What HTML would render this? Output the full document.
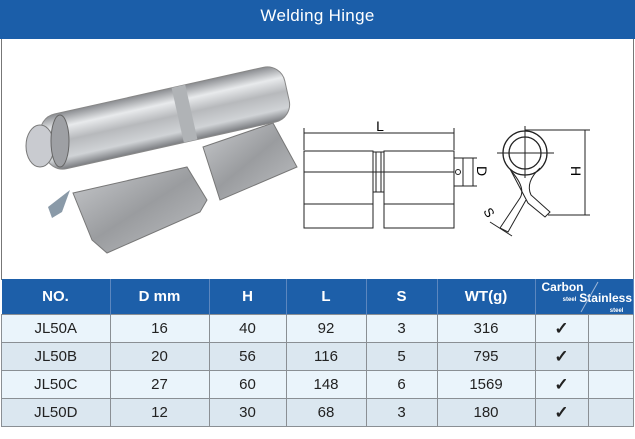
<!DOCTYPE html>
<html><head><meta charset="utf-8"><style>
body{margin:0;width:635px;height:439px;background:#fff;font-family:"Liberation Sans",sans-serif;position:relative;overflow:hidden}
.title{position:absolute;left:0;top:0;width:635px;height:39px;background:#1b5ea9;color:#fff;font-size:17px;text-align:center;line-height:31px;letter-spacing:.3px}
.frame{position:absolute;left:1px;top:39px;width:631px;height:241px;border-left:1px solid #777;border-right:1px solid #777}
table{position:absolute;left:1px;top:279px;border-collapse:collapse;width:633px;font-size:15px;color:#222}
th{background:#1d5fa9;color:#fff;height:35px;font-weight:bold;border-right:1px solid #5c87bf;font-size:15px;padding:0}
td{height:27px;text-align:center;border:1px solid #8a8f94;padding:0}
tr.a td{background:#eaf4fb} tr.b td{background:#dbe7f0}
.ck{font-size:17px;font-weight:bold}
</style></head><body>
<div class="title">Welding Hinge</div>
<div class="frame"></div>
<svg width="635" height="280" style="position:absolute;left:0;top:0">
<defs>
<linearGradient id="cy" x1="0" y1="0" x2="0" y2="1">
<stop offset="0" stop-color="#8a8c90"/><stop offset=".25" stop-color="#e8eaec"/><stop offset=".5" stop-color="#b7b9bc"/><stop offset=".8" stop-color="#d0d3d6"/><stop offset="1" stop-color="#7a7c80"/></linearGradient>
<linearGradient id="fl" x1="0" y1="0" x2="1" y2="1">
<stop offset="0" stop-color="#c8cacd"/><stop offset=".5" stop-color="#9a9c9f"/><stop offset="1" stop-color="#bfc1c4"/></linearGradient>
</defs>
<polygon points="203,147 273,123 297,167 220,200" fill="url(#fl)" stroke="#777"/>
<polygon points="73,193 187,167 207,200 200,212 107,253 92,240" fill="url(#fl)" stroke="#777"/>
<polygon points="48,207 70,190 62,212 52,218" fill="#8a9aa8"/>
<g transform="rotate(-12.6 165 118)">
<rect x="40" y="90" width="250" height="56" rx="18" fill="url(#cy)" stroke="#888"/>
<rect x="178" y="90" width="14" height="56" fill="#b0b3b6"/>
</g>
<ellipse cx="40" cy="146" rx="14" ry="21" fill="#c9cbd0" stroke="#777"/>
<ellipse cx="60" cy="141" rx="9" ry="26" fill="#9ea0a4" stroke="#666"/>
<g fill="none" stroke="#222" stroke-width="1">
<line x1="304" y1="133" x2="454" y2="133"/>
<line x1="304" y1="128" x2="304" y2="150"/><line x1="454" y1="128" x2="454" y2="150"/>
<rect x="304" y="151" width="69" height="77"/><rect x="384" y="151" width="70" height="77"/>
<line x1="304" y1="172" x2="454" y2="172"/><line x1="304" y1="204" x2="373" y2="204"/><line x1="384" y1="204" x2="454" y2="204"/>
<rect x="373" y="152" width="11" height="40"/><line x1="376" y1="152" x2="376" y2="192"/><line x1="381" y1="152" x2="381" y2="192"/>
<rect x="454" y="158" width="9" height="28"/>
<line x1="463" y1="158" x2="477" y2="158"/><line x1="463" y1="186" x2="477" y2="186"/><line x1="473" y1="158" x2="473" y2="186"/>
<circle cx="458" cy="172" r="2.5"/>
<circle cx="525" cy="153" r="22" stroke-width="1.3"/><circle cx="525" cy="153" r="16" stroke-width="1.3"/>
<line x1="497" y1="153" x2="554" y2="153"/><line x1="525" y1="126" x2="525" y2="178"/>
<path d="M510 169 L528 203 L545 217 L550 212 L531 195 Q525 182 540 168"/>
<path d="M512 172 Q526 188 520 198 L500 228 L508 232 L526 200"/>
<line x1="525" y1="130" x2="590" y2="130"/><line x1="548" y1="215" x2="590" y2="215"/><line x1="585" y1="130" x2="585" y2="215"/>
<line x1="490" y1="222" x2="512" y2="236"/>
</g>
<text x="380" y="131" font-size="14" text-anchor="middle" font-family="Liberation Sans">L</text>
<text x="0" y="0" font-size="14" transform="translate(477,166) rotate(90)" font-family="Liberation Sans">D</text>
<text x="0" y="0" font-size="14" transform="translate(571,166) rotate(90)" font-family="Liberation Sans">H</text>
<text x="0" y="0" font-size="13" transform="translate(483,211) rotate(60)" font-family="Liberation Sans">S</text>
</svg>
<table>
<tr><th style="width:108px">NO.</th><th style="width:98px">D mm</th><th style="width:76px">H</th><th style="width:79px">L</th><th style="width:70px">S</th><th style="width:97px">WT(g)</th><th colspan="2" style="position:relative;font-size:12px;line-height:10px"><div style="position:absolute;left:6px;top:3px">Carbon<br><span style="font-size:6px;padding-left:14px">steel</span></div><div style="position:absolute;right:1px;top:14px">Stainless<br><span style="font-size:6px;padding-left:22px">steel</span></div><svg width="105" height="35" style="position:absolute;left:0;top:0"><line x1="62" y1="3" x2="45" y2="33" stroke="#9fb8d8"/></svg></th></tr>
<tr class="a"><td>JL50A</td><td>16</td><td>40</td><td>92</td><td>3</td><td>316</td><td class="ck" style="width:52px">✓</td><td></td></tr>
<tr class="b"><td>JL50B</td><td>20</td><td>56</td><td>116</td><td>5</td><td>795</td><td class="ck">✓</td><td></td></tr>
<tr class="a"><td>JL50C</td><td>27</td><td>60</td><td>148</td><td>6</td><td>1569</td><td class="ck">✓</td><td></td></tr>
<tr class="b"><td>JL50D</td><td>12</td><td>30</td><td>68</td><td>3</td><td>180</td><td class="ck">✓</td><td></td></tr>
</table>
</body></html>
